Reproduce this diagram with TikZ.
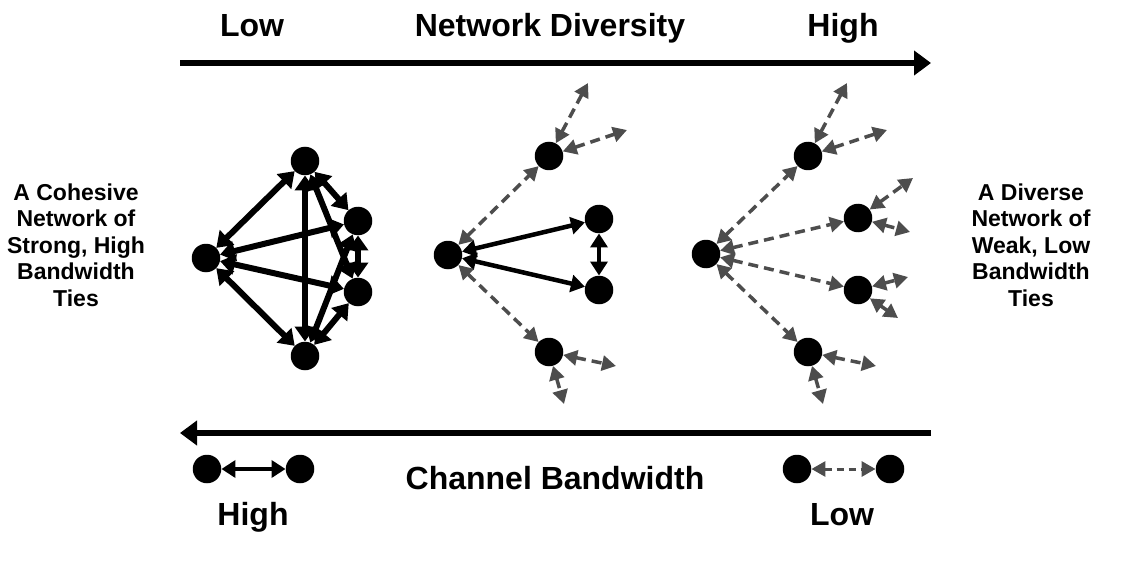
\documentclass[tikz,border=0pt]{standalone}
\usepackage{fontspec}
\setmainfont{Liberation Sans}
\usetikzlibrary{arrows.meta}
\definecolor{dg}{HTML}{4D4D4D}
\begin{document}
\begin{tikzpicture}[x=1pt,y=-1pt,
  nd/.style={circle,fill=black,minimum size=28.5pt,inner sep=0pt},
  big/.style={font=\fontsize{32}{36}\selectfont\bfseries,inner sep=0pt,anchor=base},
  side/.style={font=\fontsize{23}{26.5}\selectfont\bfseries,inner sep=0pt,align=center},
  axis/.style={line width=6.5pt,-{Triangle[length=17pt,width=24pt]}},
  strong/.style={line width=6pt,{Triangle[length=15pt,width=20pt]}-{Triangle[length=15pt,width=20pt]}},
  solidtie/.style={line width=4.5pt,{Triangle[length=14pt,width=17pt]}-{Triangle[length=14pt,width=17pt]}},
  weak/.style={dg,line width=3.5pt,dash pattern=on 10pt off 6pt,{Triangle[length=14pt,width=15pt]}-{Triangle[length=14pt,width=15pt]}}
]
\useasboundingbox (0,0) rectangle (1148,572);

% axes
\coordinate (ta) at (180,63);
\coordinate (tb) at (931,63);
\draw[axis] (ta) -- (tb);
\coordinate (ba) at (931,433);
\coordinate (bb) at (180,433);
\draw[axis] (ba) -- (bb);

% labels
\node[big] (lowt) at (252,37) {Low};
\node[big] (nd) at (550,37) {Network Diversity};
\node[big] (hight) at (843,37) {High};
\node[big] (cb) at (555,489) {Channel Bandwidth};
\node[big] (highb) at (253,525) {High};
\node[big] (lowb) at (842,525) {Low};
\node[side] (ltext) at (76,245) {A Cohesive\\Network of\\Strong, High\\Bandwidth\\Ties};
\node[side] (rtext) at (1031,245) {A Diverse\\Network of\\Weak, Low\\Bandwidth\\Ties};

% left network
\node[nd] (L0) at (206,258) {};
\node[nd] (LT) at (305,161) {};
\node[nd] (LR1) at (358,221) {};
\node[nd] (LR2) at (358,292) {};
\node[nd] (LB) at (305,356) {};
\draw[strong] (L0) -- (LT);
\draw[strong] (L0) -- (LR1);
\draw[strong] (L0) -- (LR2);
\draw[strong] (L0) -- (LB);
\draw[strong] (LT) -- (LB);
\draw[strong] (LT) -- (LR1);
\draw[strong] (LT) -- (LR2);
\draw[strong] (LB) -- (LR1);
\draw[strong] (LB) -- (LR2);
\draw[strong] (LR1) -- (LR2);

% middle network
\node[nd] (M0) at (448,255) {};
\node[nd] (MT) at (549,156) {};
\node[nd] (MR1) at (599,219) {};
\node[nd] (MR2) at (599,290) {};
\node[nd] (MB) at (549,352) {};
\coordinate (mt1) at (588,83);
\coordinate (mt2) at (627,130);
\coordinate (mb1) at (616,366);
\coordinate (mb2) at (564,404);
\draw[solidtie] (M0) -- (MR1);
\draw[solidtie] (M0) -- (MR2);
\draw[solidtie] (MR1) -- (MR2);
\draw[weak] (M0) -- (MT);
\draw[weak] (M0) -- (MB);
\draw[weak] (MT) -- (mt1);
\draw[weak] (MT) -- (mt2);
\draw[weak] (MB) -- (mb1);
\draw[weak] (MB) -- (mb2);

% right network
\node[nd] (R0) at (706,254) {};
\node[nd] (RT) at (808,156) {};
\node[nd] (RA) at (858,218) {};
\node[nd] (RB) at (858,290) {};
\node[nd] (RC) at (808,352) {};
\coordinate (rt1) at (847,83);
\coordinate (rt2) at (887,130);
\coordinate (ra1) at (913,178);
\coordinate (ra2) at (910,232);
\coordinate (rb1) at (908,277);
\coordinate (rb2) at (898,318);
\coordinate (rc1) at (876,366);
\coordinate (rc2) at (823,404);
\draw[weak] (R0) -- (RT);
\draw[weak] (R0) -- (RA);
\draw[weak] (R0) -- (RB);
\draw[weak] (R0) -- (RC);
\draw[weak] (RT) -- (rt1);
\draw[weak] (RT) -- (rt2);
\draw[weak] (RA) -- (ra1);
\draw[weak] (RA) -- (ra2);
\draw[weak] (RB) -- (rb1);
\draw[weak] (RB) -- (rb2);
\draw[weak] (RC) -- (rc1);
\draw[weak] (RC) -- (rc2);

% legend
\node[nd] (H1) at (207,469) {};
\node[nd] (H2) at (300,469) {};
\draw[solidtie] (H1) -- (H2);
\node[nd] (W1) at (797,469) {};
\node[nd] (W2) at (890,469) {};
\draw[weak,line width=3pt,dash pattern=on 7pt off 5pt] (W1) -- (W2);
\end{tikzpicture}
\end{document}
